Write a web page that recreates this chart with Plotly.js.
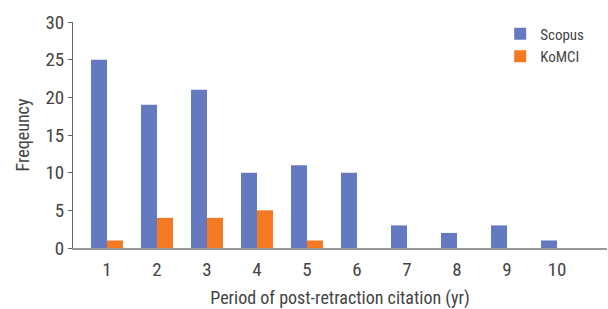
<!DOCTYPE html>
<html>
<head>
<meta charset="utf-8">
<script src="https://cdn.plot.ly/plotly-3.0.1.min.js"></script>
<style>html,body{margin:0;padding:0;background:#fff;}#chart{width:608px;height:309px;}</style>
</head>
<body>
<div id="chart"></div>
<script>
const years = [1, 2, 3, 4, 5, 6, 7, 8, 9, 10];
const scopus = [25, 19, 21, 10, 11, 10, 3, 2, 3, 1];
const komci = [1, 4, 4, 5, 1, 0, 0, 0, 0, 0];
const yTicks = [0, 5, 10, 15, 20, 25, 30];

const FONT = '"Liberation Sans Narrow", "Roboto Condensed", Roboto, sans-serif';

const data = [
  {type: 'bar', name: 'Scopus', x: years, y: scopus, marker: {color: '#6479BF'}},
  {type: 'bar', name: 'KoMCI', x: years, y: komci, marker: {color: '#F47920'}}
];

const layout = {
  width: 608, height: 309,
  margin: {l: 73, r: 1, t: 22, b: 61},
  paper_bgcolor: '#fff', plot_bgcolor: '#fff',
  barmode: 'group', bargap: 0.36, bargroupgap: 0,
  font: {family: FONT, color: '#444'},
  showlegend: true,
  legend: {x: 0.80, y: 1.02, xanchor: 'left', yanchor: 'top', font: {size: 15, color: '#444'}, bgcolor: 'rgba(0,0,0,0)', itemwidth: 30},
  xaxis: {
    range: [0.32, 11.0], tickvals: years, ticktext: years.map(String),
    showline: true, linecolor: '#999', linewidth: 2, showgrid: false, zeroline: false,
    ticks: '', ticklabelstandoff: 3, tickfont: {size: 19, color: '#444', family: FONT},
    title: {text: 'Period of post-retraction citation (yr)', font: {size: 18, color: '#444', family: FONT}, standoff: 13}
  },
  yaxis: {
    range: [0, 30], tickvals: yTicks,
    showline: true, linecolor: '#666', linewidth: 1, showgrid: false, zeroline: false,
    ticks: 'outside', ticklen: 4, tickcolor: '#666',
    tickfont: {size: 19, color: '#444', family: FONT},
    title: {text: 'Freqeuncy', font: {size: 18, color: '#444', family: FONT}, standoff: 11}
  }
};

Plotly.newPlot('chart', data, layout, {displayModeBar: false, staticPlot: true});
</script>
</body>
</html>
